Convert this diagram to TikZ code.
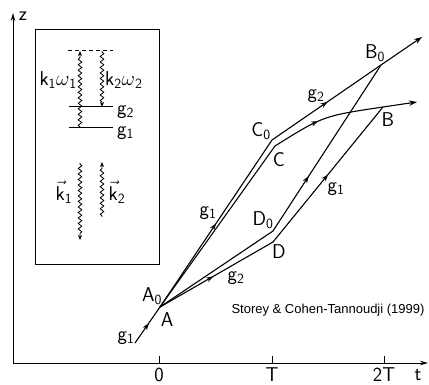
\documentclass[tikz,border=0pt]{standalone}
\usepackage{fontspec}
\newfontfamily\creditfont{Liberation Sans}
\usetikzlibrary{arrows.meta,decorations.markings,decorations.pathmorphing}
\tikzset{
  ray/.style={line width=1.1pt,line cap=round},
  midarrow/.style={postaction={decorate},decoration={markings,
    mark=at position #1 with {\arrow{Stealth[length=7pt,width=5pt]}}}},
  tip/.style={-{Stealth[length=8pt,width=5.5pt]}},
  wave/.style={decorate,decoration={snake,amplitude=1.8pt,segment length=5.5pt,
    pre length=1pt,post length=4pt},line width=0.8pt,
    -{Stealth[length=5pt,width=4pt]}},
  level/.style={line width=1pt},
  lbl/.style={font=\sffamily\fontsize{20}{22}\selectfont,inner sep=0pt},
  axis/.style={line width=0.9pt,-{Stealth[length=8pt,width=4.5pt]}}
}

\begin{document}
\begin{tikzpicture}[x=1pt,y=1pt]
\useasboundingbox (0,0) rectangle (429,385);

% Axes
\coordinate (orig) at (13,22);
\coordinate (ztop) at (13,372);
\coordinate (tend) at (428,22);
\draw[axis] (orig) -- (ztop);
\draw[axis] (orig) -- (tend);
\node[lbl] (zlab) at (23,369) {z};
\node[lbl] (tlab) at (418,10) {t};
\foreach \x/\v in {159/0,272/T,384/2T}{
  \draw[line width=0.9pt] (\x,22) -- (\x,29);
  \node[lbl] (tick\v) at (\x,10) {\v};
}

% Inset
\node[draw,line width=0.9pt,minimum width=124pt,minimum height=235pt,
  inner sep=0pt] (inset) at (97,238.5) {};
\coordinate (dashL) at (68,334);
\coordinate (dashR) at (113,334);
\coordinate (gtwoL) at (69,278);
\coordinate (gtwoR) at (113,278);
\coordinate (goneL) at (69,257);
\coordinate (goneR) at (113,257);
\draw[level,dashed,dash pattern=on 4pt off 3pt] (dashL) -- (dashR);
\draw[level] (gtwoL) -- (gtwoR);
\draw[level] (goneL) -- (goneR);
\node[lbl,anchor=west] (gtwolab) at (117,273) {g\textsubscript{2}};
\node[lbl,anchor=west] (gonelab) at (117,252) {g\textsubscript{1}};

\coordinate (wa1) at (80,257);
\coordinate (wa2) at (80,334);
\coordinate (wb1) at (102,334);
\coordinate (wb2) at (102,278);
\draw[wave] (wa1) -- (wa2);
\draw[wave] (wb1) -- (wb2);
\node[lbl,anchor=east] (komega1) at (77,305) {k\textsubscript{1}$\omega$\textsubscript{1}};
\node[lbl,anchor=west] (komega2) at (105,305) {k\textsubscript{2}$\omega$\textsubscript{2}};

\coordinate (wc1) at (80,222);
\coordinate (wc2) at (80,145);
\coordinate (wd1) at (102,168);
\coordinate (wd2) at (102,223);
\draw[wave] (wc1) -- (wc2);
\draw[wave] (wd1) -- (wd2);
\node[lbl] (kvec1) at (64,193) {$\vec{\mbox{k}}$\textsubscript{1}};
\node[lbl] (kvec2) at (117,193) {$\vec{\mbox{k}}$\textsubscript{2}};

% Paths
\coordinate (S) at (135,42);
\coordinate (A) at (160,78);
\coordinate (C0) at (272,245);
\coordinate (C) at (275,239);
\coordinate (D0) at (273,154);
\coordinate (D) at (273,143);
\coordinate (B0) at (381,320);
\coordinate (B) at (383,278);
\coordinate (endone) at (422,348);
\coordinate (endtwo) at (417,283);
\coordinate (bend) at (323,269);

\draw[ray,midarrow=0.55] (S) -- (A);
\draw[ray,midarrow=0.5] (A) -- (C0);
\draw[ray] (A) -- (C);
\draw[ray,tip,midarrow=0.37] (C0) -- (B0) -- (endone);
\draw[ray,tip,midarrow=0.33] (C) .. controls (bend) .. (B) -- (endtwo);
\draw[ray,midarrow=0.47] (A) -- (D);
\draw[ray] (A) -- (D0);
\draw[ray,midarrow=0.33] (D0) -- (B0);
\draw[ray,midarrow=0.5] (D) -- (B);

% Labels
\node[lbl] (gstart) at (126,47) {g\textsubscript{1}};
\node[lbl] (Alab) at (167,65) {A};
\node[lbl] (A0lab) at (152,89) {A\textsubscript{0}};
\node[lbl] (gup) at (208,172) {g\textsubscript{1}};
\node[lbl] (glow) at (236,107) {g\textsubscript{2}};
\node[lbl] (D0lab) at (263,165) {D\textsubscript{0}};
\node[lbl] (Dlab) at (279,133) {D};
\node[lbl] (C0lab) at (261,254) {C\textsubscript{0}};
\node[lbl] (Clab) at (279,225) {C};
\node[lbl] (gtop) at (316,289) {g\textsubscript{2}};
\node[lbl] (B0lab) at (375,332) {B\textsubscript{0}};
\node[lbl] (Blab) at (388,265) {B};
\node[lbl] (gright) at (336,196) {g\textsubscript{1}};
\node[inner sep=0pt,font=\creditfont\fontsize{13}{15}\selectfont] (credit)
  at (328,75) {Storey \& Cohen-Tannoudji (1999)};

\end{tikzpicture}
\end{document}
